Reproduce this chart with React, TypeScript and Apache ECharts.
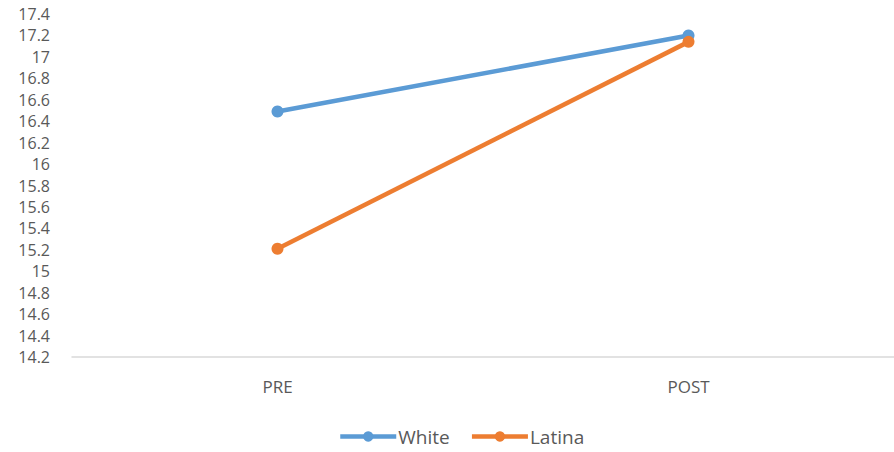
import React, { useEffect, useRef } from "react";
import * as echarts from "echarts";

const categories = ["PRE", "POST"];
const whiteValues = [16.49, 17.2];
const latinaValues = [15.21, 17.14];
const yMin = 14.2;
const yMax = 17.4;
const yInterval = 0.2;

export default function App() {
  const ref = useRef<HTMLDivElement>(null);
  useEffect(() => {
    document.body.style.margin = "0";
    const chart = echarts.init(ref.current!, null, { renderer: "svg" });
    const font = "'Open Sans', 'DejaVu Sans', sans-serif";
    chart.setOption({
      animation: false,
      backgroundColor: "#ffffff",
      grid: { left: 72, right: 0, top: 14, bottom: 95, containLabel: false },
      legend: {
        bottom: 1,
        left: 333,
        itemWidth: 56,
        itemHeight: 13,
        itemGap: 20,
        lineStyle: { width: 4.5 },
        textStyle: { color: "#595959", fontSize: 19, fontFamily: font, padding: [0, 0, 0, -3] },
        data: ["White", "Latina"],
      },
      xAxis: {
        type: "category",
        data: categories,
        boundaryGap: true,
        axisLine: { show: true, lineStyle: { color: "#d9d9d9", width: 1.5 } },
        axisTick: { show: false },
        axisLabel: { color: "#595959", fontSize: 17, fontFamily: font, margin: 21 },
      },
      yAxis: {
        type: "value",
        min: yMin,
        max: yMax,
        interval: yInterval,
        splitLine: { show: false },
        axisLine: { show: false },
        axisTick: { show: false },
        axisLabel: {
          color: "#595959",
          fontSize: 16,
          fontFamily: font,
          margin: 22,
          formatter: (v: number) => String(parseFloat(v.toFixed(1))),
        },
      },
      series: [
        {
          name: "White",
          type: "line",
          data: whiteValues,
          symbol: "circle",
          symbolSize: 12,
          lineStyle: { color: "#5B9BD5", width: 4.5 },
          itemStyle: { color: "#5B9BD5" },
        },
        {
          name: "Latina",
          type: "line",
          data: latinaValues,
          symbol: "circle",
          symbolSize: 12,
          lineStyle: { color: "#ED7D31", width: 4.5 },
          itemStyle: { color: "#ED7D31" },
        },
      ],
    });
    return () => chart.dispose();
  }, []);
  return (
    <div
      ref={ref}
      style={{ position: "fixed", left: 0, top: 0, width: 894, height: 452 }}
    />
  );
}
